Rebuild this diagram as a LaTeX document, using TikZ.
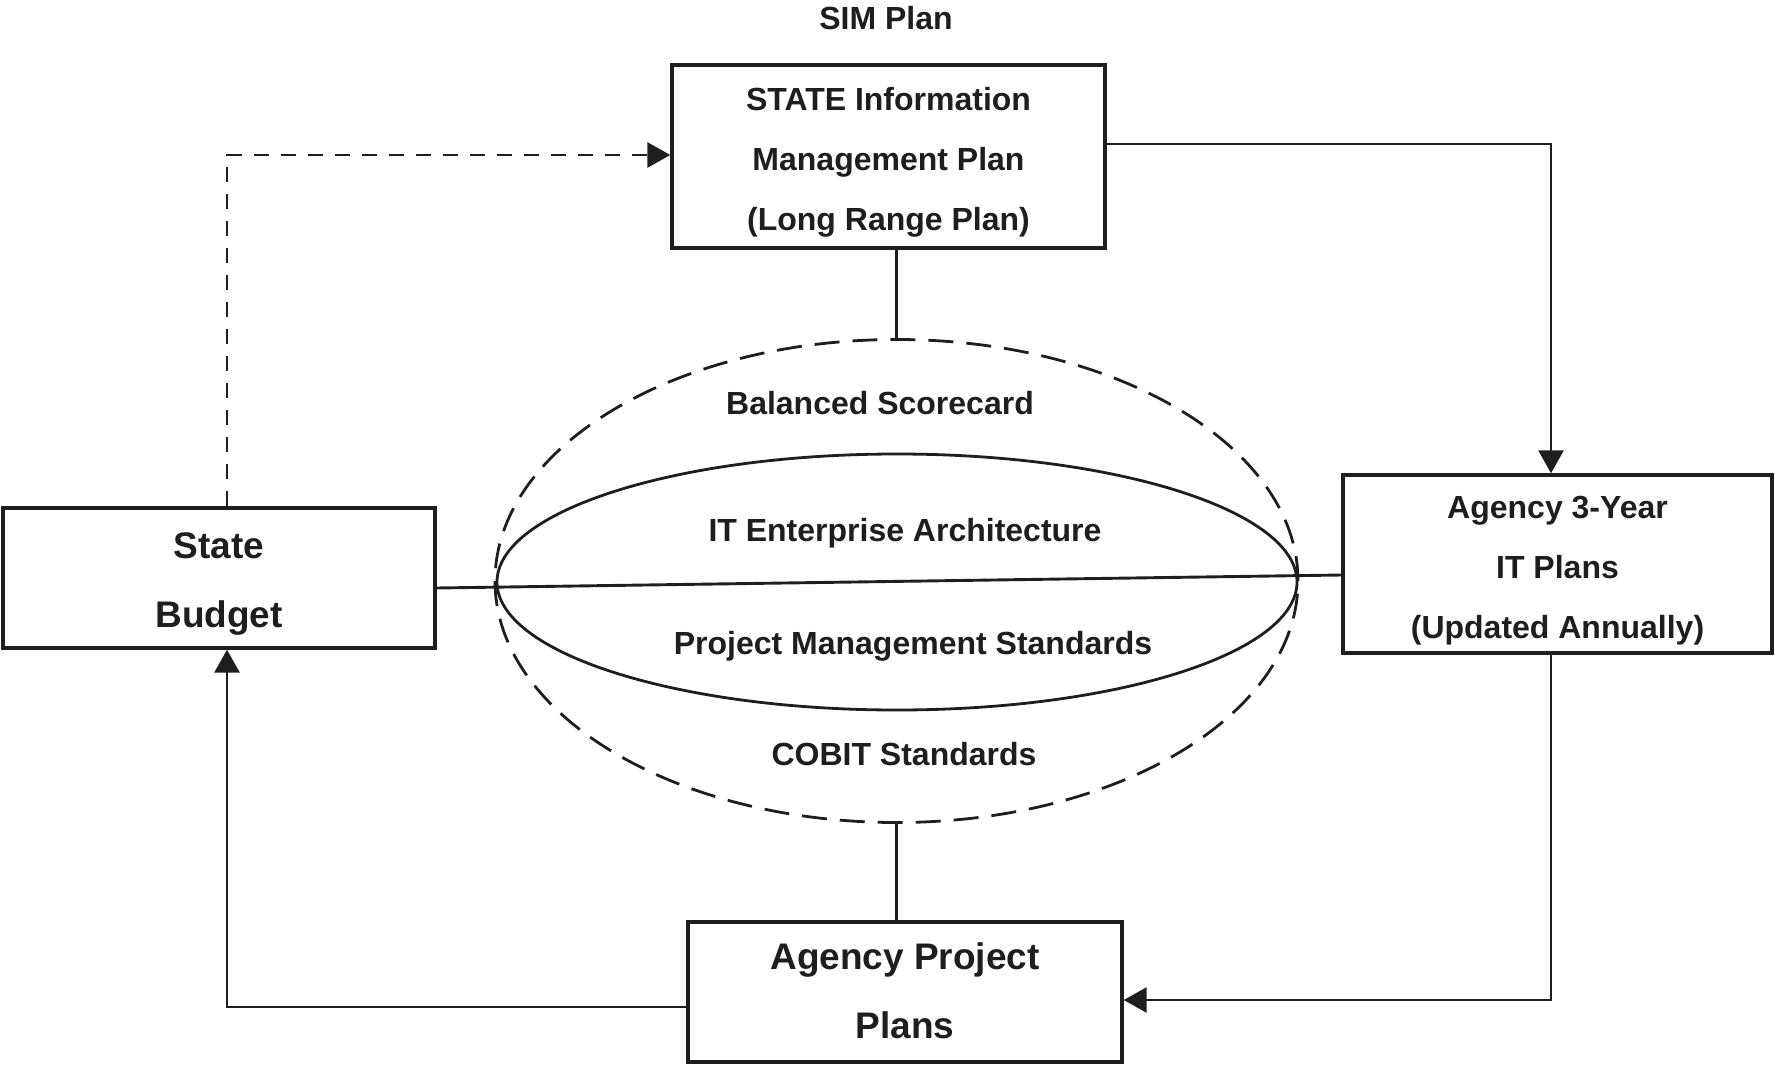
\documentclass[tikz,border=0pt]{standalone}
\usepackage{fontspec}
\setmainfont{Liberation Sans}
\usetikzlibrary{arrows.meta,shapes.geometric}
\newcommand\normfnt{\fontsize{16}{30}\selectfont\bfseries}
\newcommand\bigfnt{\fontsize{18.5}{34.5}\selectfont\bfseries}
\definecolor{ink}{HTML}{1E1E1E}
\begin{document}
\begin{tikzpicture}[x=0.5pt,y=-0.5pt,
  every node/.style={text=ink},
  box/.style={draw=ink, line width=1.7pt, rectangle, inner sep=0pt},
  btxt/.style={inner sep=0pt, align=center, font=\normfnt},
  bigtxt/.style={btxt, font=\bigfnt},
  lbl/.style={inner sep=0pt, font=\normfnt, text height=11.4pt, text depth=0pt},
  conn/.style={draw=ink, line width=1.45pt},
  tip/.style={-{Triangle[length=11.5pt,width=12.5pt]}},
  dashconn/.style={conn, dash pattern=on 7.5pt off 6pt},
  ell/.style={draw=ink, ellipse, line width=1.4pt, inner sep=0pt}
]
\useasboundingbox (0,0) rectangle (1775,1064);

% boxes
\node[box, minimum width=216.5pt, minimum height=91.5pt] (sim) at (888.5,156.5) {};
\node[btxt] (simtxt) at (888.5,162.5) {STATE Information\\Management Plan\\(Long Range Plan)};
\node[box, minimum width=216pt, minimum height=70pt] (budget) at (219,578) {};
\node[bigtxt] (budgettxt) at (219,584) {State\\Budget};
\node[box, minimum width=214.5pt, minimum height=89pt] (agency) at (1557.5,564) {};
\node[btxt] (agencytxt) at (1557.5,571) {Agency 3-Year\\IT Plans\\(Updated Annually)};
\node[box, minimum width=217pt, minimum height=70pt] (proj) at (905,992) {};
\node[bigtxt] (projtxt) at (905,991) {Agency Project\\Plans};

% ellipses
\node[ell, dash pattern=on 12.5pt off 6.5pt, minimum width=401.5pt, minimum height=241.5pt] (outer) at (896.5,581) {};
\node[ell, minimum width=400pt, minimum height=128pt] (inner) at (897,582) {};

% labels
\node[lbl] (simplan) at (886,18) {SIM Plan};
\node[lbl] (bsc) at (880,403) {Balanced Scorecard};
\node[lbl] (itea) at (905,530) {IT Enterprise Architecture};
\node[lbl] (pms) at (913,643) {Project Management Standards};
\node[lbl] (cobit) at (904,754) {COBIT Standards};

% helper coordinates
\coordinate (c1) at (1551,144);
\coordinate (c2) at (1551,1000);
\coordinate (c3) at (227,1007);
\coordinate (c4) at (227,155);
\coordinate (h1) at (0,588);
\coordinate (h2) at (0,575);

% connectors
\draw[conn, tip] (sim.east |- c1) -- (c1) -- (c1 |- agency.north);
\draw[conn, tip] (c2 |- agency.south) -- (c2) -- (proj.east |- c2);
\draw[conn, tip] (proj.west |- c3) -- (c3) -- (c3 |- budget.south);
\draw[dashconn, tip] (c4 |- budget.north) -- (c4) -- (sim.west |- c4);
\draw[conn] (budget.east |- h1) -- (agency.west |- h2);
\draw[conn] (outer.north |- sim.south) -- (outer.north);
\draw[conn] (outer.south) -- (outer.south |- proj.north);
\end{tikzpicture}
\end{document}
